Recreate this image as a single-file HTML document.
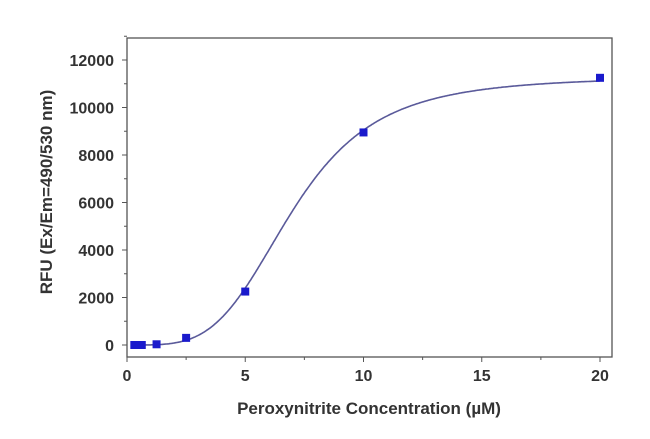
<!DOCTYPE html>
<html><head><meta charset="utf-8"><style>
body{margin:0;background:#fff;}
svg text{font-family:"Liberation Sans",Arial,sans-serif;font-weight:bold;fill:#333;}
</style></head><body>
<svg width="650" height="434" xmlns="http://www.w3.org/2000/svg">
<g id="g"></g>
</svg>
<script>
const xValues=[0.31,0.625,1.25,2.5,5,10,20];
const yValues=[0,0,30,300,2250,8950,11250];
const xTicks=[0,5,10,15,20];
const yTicks=[0,2000,4000,6000,8000,10000,12000];
const fitParams=[0,11300,7.0,3.9]; // bottom, top, EC50, hill
const X0=127,X1=600,Y0=345,Y1=60;
const sx=v=>X0+(X1-X0)*v/20;
const sy=v=>Y0+(Y1-Y0)*v/12000;
const NS="http://www.w3.org/2000/svg";
const g=document.getElementById('g');
function mk(t,a){const e=document.createElementNS(NS,t);for(const k in a)e.setAttribute(k,a[k]);g.appendChild(e);return e;}
let e=mk('rect',{x:127,y:38,width:485,height:319,fill:'none',stroke:'#555','stroke-width':1.3});

xTicks.forEach(t=>{mk('line',{x1:sx(t),x2:sx(t),y1:357,y2:362,stroke:'#555'});
 mk('line',{x1:sx(t+2.5),x2:sx(t+2.5),y1:357,y2:360,stroke:'#555'});
 const tx=mk('text',{x:sx(t),y:381,'text-anchor':'middle','font-size':16});tx.textContent=t;
 });
yTicks.forEach(t=>{mk('line',{x1:122,x2:127,y1:sy(t),y2:sy(t),stroke:'#555'});
 mk('line',{x1:124,x2:127,y1:sy(t+1000),y2:sy(t+1000),stroke:'#555'});
 const tx=mk('text',{x:114,y:sy(t)+6,'text-anchor':'end','font-size':16});tx.textContent=t;
 });
const [b,tp,ec,h]=fitParams;
let d='';for(let i=0;i<=400;i++){const x=0.5+19.5*i/400;const y=b+(tp-b)/(1+Math.pow(ec/x,h));d+=(i?'L':'M')+sx(x).toFixed(1)+','+sy(y).toFixed(1);}
e=mk('path',{d:d,fill:'none',stroke:'#5a5a9a','stroke-width':1.6});

xValues.forEach((x,i)=>{const r=mk('rect',{x:sx(x)-4,y:sy(yValues[i])-4,width:8,height:8,fill:'#1a1acc'});
 });
e=mk('text',{x:369,y:414,'text-anchor':'middle','font-size':17});e.textContent='Peroxynitrite Concentration (µM)';

e=mk('text',{x:0,y:0,'text-anchor':'middle','font-size':17,transform:'translate(52,192) rotate(-90)'});e.textContent='RFU (Ex/Em=490/530 nm)';

</script>
</body></html>
